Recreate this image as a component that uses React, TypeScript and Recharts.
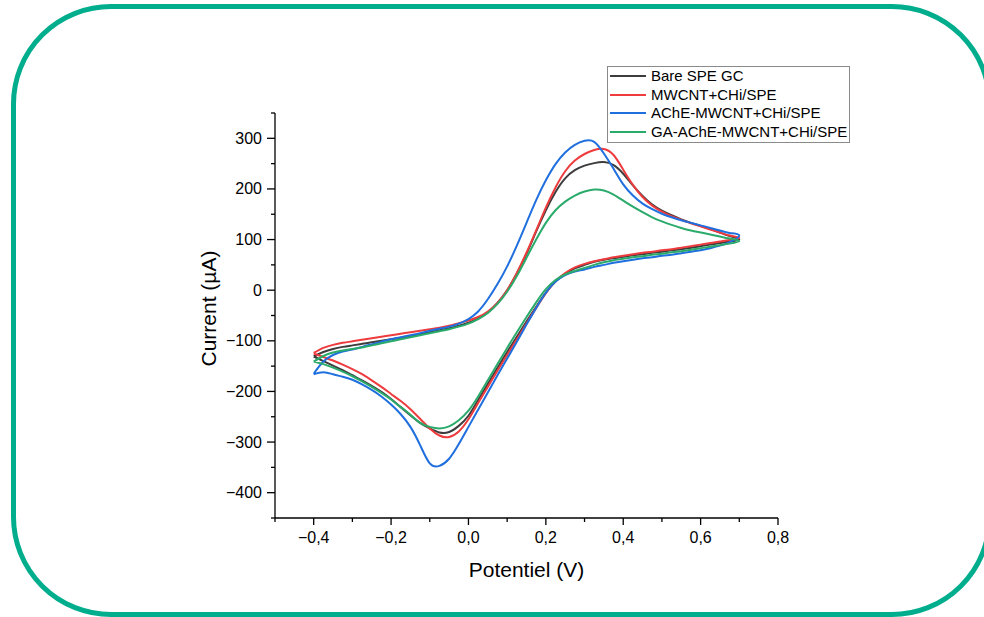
import React from "react";
import { LineChart, Line, XAxis, YAxis, Legend, Label } from "recharts";

// potential grid (V), shared by every sweep
const POTENTIAL = [
  -0.4, -0.375, -0.35, -0.325, -0.3, -0.275, -0.25, -0.225, -0.2, -0.175, -0.15, -0.125,
  -0.1, -0.075, -0.05, -0.025, 0, 0.025, 0.05, 0.075, 0.1, 0.125, 0.15, 0.175, 0.2,
  0.225, 0.25, 0.275, 0.3, 0.325, 0.35, 0.375, 0.4, 0.425, 0.45, 0.475, 0.5, 0.525,
  0.55, 0.575, 0.6, 0.625, 0.65, 0.675, 0.7,
];

// current (µA), forward sweep (-0.4 -> 0.7) and reverse sweep, both listed in grid order
const BARE_FWD = [
  -131, -122, -116, -112, -109, -106, -103, -100, -97, -94, -91, -87, -83, -79, -75, -70,
  -64, -56, -44, -25, 0, 33, 72, 116, 158, 194, 221, 237, 246, 251, 253, 247, 230, 207,
  186, 169, 157, 148, 140, 133, 127, 121, 114, 107, 100,
];
const BARE_REV = [
  -131, -140, -149, -158, -168, -178, -189, -201, -215, -231, -247, -262, -273, -281,
  -280, -268, -248, -217, -185, -153, -122, -92, -62, -33, -5, 17, 32, 43, 50, 56, 60,
  63, 66, 69, 71, 74, 76, 79, 81, 84, 87, 90, 93, 96, 100,
];

const MWCNT_FWD = [
  -124, -114, -108, -104, -101, -98, -95, -92, -89, -86, -83, -80, -77, -74, -70, -65,
  -60, -53, -42, -25, 0, 34, 74, 118, 163, 203, 235, 256, 269, 277, 279, 267, 238, 208,
  184, 167, 155, 146, 139, 132, 126, 120, 114, 108, 103,
];
const MWCNT_REV = [
  -125, -132, -139, -147, -156, -166, -178, -191, -205, -219, -235, -254, -273, -287,
  -290, -279, -255, -223, -191, -159, -128, -97, -66, -35, -6, 18, 34, 45, 52, 57, 61,
  65, 68, 71, 74, 76, 79, 81, 84, 87, 90, 93, 96, 99, 103,
];

const ACHE_FWD = [
  -165, -141, -128, -121, -117, -112, -107, -102, -97, -93, -89, -85, -80, -76, -72, -66,
  -57, -42, -18, 12, 47, 88, 133, 178, 217, 249, 272, 287, 295, 293, 270, 240, 209, 187,
  171, 160, 151, 144, 138, 133, 128, 123, 118, 113, 108,
];
const ACHE_REV = [
  -166, -162, -166, -171, -177, -186, -197, -210, -226, -245, -270, -306, -342, -347,
  -333, -304, -270, -236, -202, -168, -135, -102, -68, -35, -5, 17, 30, 37, 41, 46, 50,
  54, 57, 60, 63, 65, 68, 70, 73, 76, 79, 83, 88, 95, 108,
];

const GA_FWD = [
  -141, -130, -123, -119, -116, -113, -109, -105, -101, -97, -93, -89, -85, -81, -77, -72,
  -66, -57, -45, -27, -3, 28, 64, 100, 133, 158, 175, 187, 195, 199, 197, 189, 177, 165,
  154, 144, 136, 129, 123, 118, 114, 110, 106, 102, 97,
];
const GA_REV = [
  -141, -146, -153, -161, -170, -180, -191, -203, -216, -231, -246, -262, -270, -273,
  -269, -257, -238, -210, -178, -146, -114, -83, -53, -24, 2, 20, 31, 38, 44, 50, 55, 59,
  62, 65, 67, 70, 72, 75, 77, 80, 83, 86, 89, 92, 97,
];

const SERIES_NAMES = [
  "Bare SPE GC",
  "MWCNT+CHi/SPE",
  "AChE-MWCNT+CHi/SPE",
  "GA-AChE-MWCNT+CHi/SPE",
];
const COLORS = ["#3d3d3d", "#ee3b3d", "#1f6fdf", "#2bab6b"];

const X_TICKS = [-0.5, -0.4, -0.3, -0.2, -0.1, 0, 0.1, 0.2, 0.3, 0.4, 0.5, 0.6, 0.7, 0.8];
const Y_TICKS = [-450, -400, -350, -300, -250, -200, -150, -100, -50, 0, 50, 100, 150, 200, 250, 300, 350];

const FONT = "Arial, 'Liberation Sans', sans-serif";

// one closed voltammogram: forward sweep then back
function cycle(fwd: number[], rev: number[]) {
  const pts = POTENTIAL.map((v, i) => ({ x: v, y: fwd[i] }));
  for (let i = POTENTIAL.length - 2; i >= 0; i--) pts.push({ x: POTENTIAL[i], y: rev[i] });
  return pts;
}

const CURVES = [
  cycle(BARE_FWD, BARE_REV),
  cycle(MWCNT_FWD, MWCNT_REV),
  cycle(ACHE_FWD, ACHE_REV),
  cycle(GA_FWD, GA_REV),
];

const minus = (s: string) => s.replace("-", "\u2212");

function XTick(props: any) {
  const { x, y, payload } = props;
  const v = payload.value as number;
  const major = Math.round(v * 10) % 2 === 0;
  return (
    <g>
      <line x1={x} x2={x} y1={y} y2={y + (major ? 7 : 4)} stroke="#000" strokeWidth={1.3} />
      {major && (
        <text x={x} y={y + 25} textAnchor="middle" fontSize={16} fontFamily={FONT} fill="#000">
          {minus(v.toFixed(1).replace(".", ","))}
        </text>
      )}
    </g>
  );
}

function YTick(props: any) {
  const { x, y, payload } = props;
  const v = payload.value as number;
  const major = v % 100 === 0;
  return (
    <g>
      <line x1={x} x2={x - (major ? 8 : 4)} y1={y} y2={y} stroke="#000" strokeWidth={1.3} />
      {major && (
        <text x={x - 13} y={y} textAnchor="end" dominantBaseline="central" fontSize={16} fontFamily={FONT} fill="#000">
          {minus(String(v))}
        </text>
      )}
    </g>
  );
}

function LegendBox() {
  return (
    <div
      style={{
        border: "1px solid #8a8a8a",
        background: "#fff",
        padding: "0 2px 1px 2px",
        fontFamily: FONT,
        fontSize: 15,
        color: "#000",
        lineHeight: "18.5px",
      }}
    >
      {SERIES_NAMES.map((name, i) => (
        <div key={name} style={{ display: "flex", alignItems: "center", whiteSpace: "nowrap" }}>
          <span style={{ display: "inline-block", width: 36, height: 2, background: COLORS[i], marginRight: 5 }} />
          <span>{name}</span>
        </div>
      ))}
    </div>
  );
}

function YTitle(props: any) {
  const vb = props.viewBox || { x: 195, y: 113, width: 80, height: 405 };
  const cx = vb.x + 13;
  const cy = vb.y + vb.height / 2 - 7;
  return (
    <text
      x={cx}
      y={cy}
      transform={`rotate(-90, ${cx}, ${cy})`}
      textAnchor="middle"
      dominantBaseline="central"
      fontSize={21}
      fontFamily={FONT}
      fill="#000"
    >
      Current (µA)
    </text>
  );
}

export default function App() {
  return (
    <div
      style={{
        position: "absolute",
        left: 0,
        top: 0,
        width: 984,
        height: 617,
        overflow: "hidden",
        background: "#fff",
      }}
    >
      <LineChart width={984} height={617} margin={{ top: 113, right: 206, bottom: 69, left: 195 }}>
        <XAxis
          type="number"
          dataKey="x"
          domain={[-0.5, 0.8]}
          ticks={X_TICKS}
          interval={0}
          tickLine={false}
          tickSize={0}
          tickMargin={0}
          tick={XTick}
          height={30}
          axisLine={{ stroke: "#000", strokeWidth: 1.3 }}
        >
          <Label
            value="Potentiel (V)"
            position="bottom"
            offset={14}
            style={{ fontSize: 21, fontFamily: FONT, fill: "#000" }}
          />
        </XAxis>
        <YAxis
          type="number"
          dataKey="y"
          domain={[-450, 350]}
          ticks={Y_TICKS}
          interval={0}
          tickLine={false}
          tickSize={0}
          tickMargin={0}
          tick={YTick}
          width={80}
          axisLine={{ stroke: "#000", strokeWidth: 1.3 }}
        >
          <Label content={YTitle} />
        </YAxis>
        <Legend
          layout="vertical"
          align="center"
          verticalAlign="middle"
          content={LegendBox}
          wrapperStyle={{ left: 607, top: 66, width: "auto" }}
        />
        {CURVES.map((pts, i) => (
          <Line
            key={SERIES_NAMES[i]}
            name={SERIES_NAMES[i]}
            data={pts}
            dataKey="y"
            type="natural"
            stroke={COLORS[i]}
            strokeWidth={2}
            dot={false}
            activeDot={false}
            isAnimationActive={false}
          />
        ))}
      </LineChart>
      <div
        style={{
          position: "absolute",
          left: 11,
          top: 4,
          width: 981,
          height: 613,
          border: "5px solid #00ad8c",
          borderRadius: 100,
          boxSizing: "border-box",
          pointerEvents: "none",
        }}
      />
    </div>
  );
}
